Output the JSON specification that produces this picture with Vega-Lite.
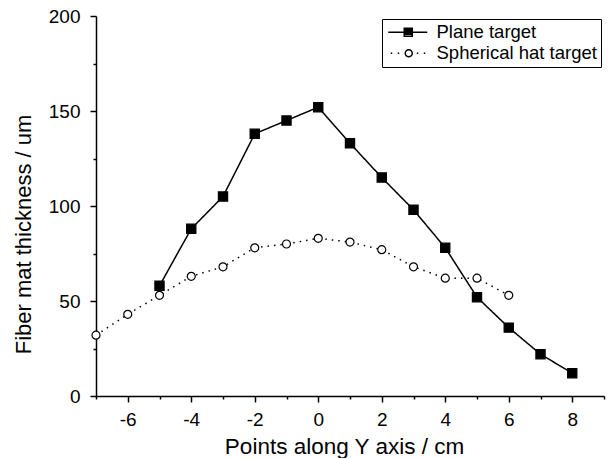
{
  "$schema": "https://vega.github.io/schema/vega-lite/v6.json",
  "autosize": "none",
  "width": 508,
  "height": 380,
  "padding": {"left": 96, "top": 16, "right": 6, "bottom": 62},
  "background": "white",
  "config": {
    "view": {"stroke": null},
    "font": "Liberation Sans",
    "axis": {
      "domainColor": "black", "domainWidth": 1.5, "tickColor": "black", "tickWidth": 1.5,
      "labelColor": "black", "titleColor": "black", "labelFont": "Liberation Sans", "titleFont": "Liberation Sans",
      "labelFontSize": 19, "titleFontWeight": "normal", "grid": false
    }
  },
  "data": {"values": [
    {"x": -5, "y": 58, "series": "Plane target"},
    {"x": -4, "y": 88, "series": "Plane target"},
    {"x": -3, "y": 105, "series": "Plane target"},
    {"x": -2, "y": 138, "series": "Plane target"},
    {"x": -1, "y": 145, "series": "Plane target"},
    {"x": 0, "y": 152, "series": "Plane target"},
    {"x": 1, "y": 133, "series": "Plane target"},
    {"x": 2, "y": 115, "series": "Plane target"},
    {"x": 3, "y": 98, "series": "Plane target"},
    {"x": 4, "y": 78, "series": "Plane target"},
    {"x": 5, "y": 52, "series": "Plane target"},
    {"x": 6, "y": 36, "series": "Plane target"},
    {"x": 7, "y": 22, "series": "Plane target"},
    {"x": 8, "y": 12, "series": "Plane target"},
    {"x": -7, "y": 32, "series": "Spherical hat target"},
    {"x": -6, "y": 43, "series": "Spherical hat target"},
    {"x": -5, "y": 53, "series": "Spherical hat target"},
    {"x": -4, "y": 63, "series": "Spherical hat target"},
    {"x": -3, "y": 68, "series": "Spherical hat target"},
    {"x": -2, "y": 78, "series": "Spherical hat target"},
    {"x": -1, "y": 80, "series": "Spherical hat target"},
    {"x": 0, "y": 83, "series": "Spherical hat target"},
    {"x": 1, "y": 81, "series": "Spherical hat target"},
    {"x": 2, "y": 77, "series": "Spherical hat target"},
    {"x": 3, "y": 68, "series": "Spherical hat target"},
    {"x": 4, "y": 62, "series": "Spherical hat target"},
    {"x": 5, "y": 62, "series": "Spherical hat target"},
    {"x": 6, "y": 53, "series": "Spherical hat target"}
  ]},
  "encoding": {
    "x": {
      "field": "x", "type": "quantitative",
      "scale": {"domain": [-7, 9], "nice": false, "zero": false},
      "axis": {
        "title": "Points along Y axis / cm",
        "titleFontSize": 22.5,
        "titleX": 248,
        "values": [-7, -6, -5, -4, -3, -2, -1, 0, 1, 2, 3, 4, 5, 6, 7, 8, 9],
        "labelExpr": "datum.value % 2 === 0 ? '' + datum.value : ''",
        "tickSize": {"condition": {"test": "datum.value % 2 !== 0", "value": 3}, "value": 6},
        "labelPadding": 8, "titlePadding": 6, "labelFlush": false
      }
    },
    "y": {
      "field": "y", "type": "quantitative",
      "scale": {"domain": [0, 200], "nice": false},
      "axis": {
        "title": "Fiber mat thickness / um",
        "titleFontSize": 22,
        "titleY": 218,
        "values": [0, 25, 50, 75, 100, 125, 150, 175, 200],
        "labelExpr": "datum.value % 50 === 0 ? datum.label : ''",
        "tickSize": {"condition": {"test": "datum.value % 50 !== 0", "value": 3}, "value": 6},
        "labelPadding": 10, "titlePadding": 13
      }
    }
  },
  "layer": [
    {
      "mark": {"type": "line", "color": "black", "strokeWidth": 1.5},
      "encoding": {
        "detail": {"field": "series", "type": "nominal"},
        "strokeDash": {"condition": {"test": "datum.series === 'Plane target'", "value": [1, 0]}, "value": [1.5, 5]}
      }
    },
    {
      "mark": {"type": "point", "stroke": "black", "strokeWidth": 1.2, "opacity": 1},
      "encoding": {
        "shape": {"condition": {"test": "datum.series === 'Plane target'", "value": "square"}, "value": "circle"},
        "fill": {"condition": {"test": "datum.series === 'Plane target'", "value": "black"}, "value": "white"},
        "size": {"condition": {"test": "datum.series === 'Plane target'", "value": 85}, "value": 64}
      }
    },
    {
      "transform": [{"filter": "false"}],
      "mark": {"type": "point", "filled": false, "stroke": "black", "strokeWidth": 1.5, "opacity": 1},
      "encoding": {
        "shape": {"field": "series", "type": "nominal",
          "scale": {"domain": ["Plane target", "Spherical hat target"],
            "range": [
              "M-1.4,0H6.4M1.8,-0.8H3.4V0.8H1.8ZM1.8,-0.5H3.4M1.8,-0.2H3.4M1.8,0.1H3.4M1.8,0.4H3.4",
              "M-0.9,0H-0.6M0.5,0H0.8M4.3,0H4.6M5.7,0H6M2,0A0.7,0.7,0,1,1,3.4,0A0.7,0.7,0,1,1,2,0"
            ]},
          "legend": {
            "title": null, "orient": "none", "legendX": 286, "legendY": 3,
            "strokeColor": "black", "fillColor": "white", "padding": 4,
            "symbolSize": 100, "symbolStrokeWidth": 1.5, "symbolStrokeColor": "black", "symbolOpacity": 1,
            "labelFontSize": 18.5, "labelFont": "Liberation Sans", "labelColor": "black", "labelOffset": 32,
            "labelLimit": 300, "rowPadding": 2
          }}
      }
    }
  ]
}
